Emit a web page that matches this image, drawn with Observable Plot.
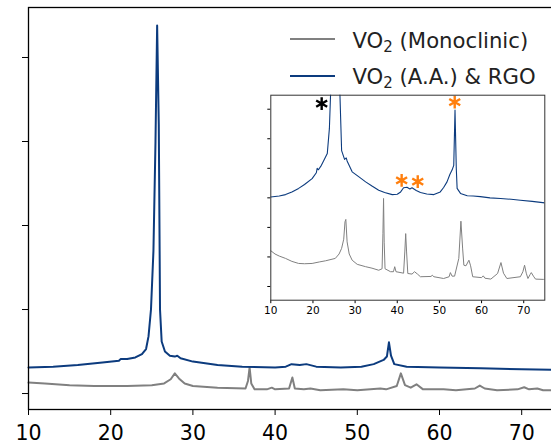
<!DOCTYPE html>
<html>
<head>
<meta charset="utf-8">
<script src="https://cdn.jsdelivr.net/npm/d3@7"></script>
<script src="https://cdn.jsdelivr.net/npm/@observablehq/plot@0.6"></script>
<style>
  html, body { margin: 0; padding: 0; background: white; overflow: hidden; }
  #wrap { position: relative; width: 551px; height: 445px; overflow: hidden; }
  #main { position: absolute; left: 0; top: 0; width: 563px; }
  #inset { position: absolute; left: 250px; top: 85px; width: 300px; }
  #legend { position: absolute; left: 0; top: 0; }
  svg { max-width: none !important; }
</style>
</head>
<body>
<div id="wrap">
  <div id="main"></div>
  <div id="inset"></div>
  <svg id="legend" width="551" height="95"></svg>
</div>
<script>
// ---- data ----
const seriesNames = ["VO2 (Monoclinic)", "VO2 (A.A.) & RGO"];
const xTicks = [10, 20, 30, 40, 50, 60, 70];
const mainYTicks = [0, 1, 2, 3, 4];
const insetYTicks = [0, 1, 2, 3, 4, 5, 6];

// main panel, gray (monoclinic)
const grayX = [10, 12, 15, 18, 22, 25, 26.5, 27.3, 27.8, 28.3, 29, 30, 33, 36.4, 36.7, 36.9, 37.1, 37.5, 39, 39.6, 40, 41.7, 42.1, 42.4, 43.5, 44.3, 45.5, 48.3, 50, 52.8, 53.5, 54.8, 55.3, 55.8, 56.5, 57.2, 58, 60.5, 62, 64.3, 64.9, 65.5, 67, 69.5, 70.3, 70.9, 71.9, 72.6, 75];
const grayY = [0.13, 0.12, 0.10, 0.09, 0.09, 0.10, 0.12, 0.17, 0.24, 0.18, 0.12, 0.09, 0.07, 0.06, 0.15, 0.31, 0.12, 0.05, 0.05, 0.07, 0.05, 0.06, 0.19, 0.06, 0.05, 0.06, 0.04, 0.05, 0.04, 0.06, 0.05, 0.09, 0.24, 0.10, 0.07, 0.11, 0.05, 0.05, 0.04, 0.06, 0.095, 0.06, 0.04, 0.05, 0.075, 0.05, 0.06, 0.04, 0.035];

// main panel, blue (A.A. & RGO)
const blueX = [10, 13, 16, 19, 21, 21.2, 22, 23, 23.8, 24.3, 24.6, 24.9, 25.2, 25.45, 25.65, 25.85, 26.0, 26.2, 26.6, 27.2, 27.8, 28.1, 28.5, 30, 33, 36, 40, 41.3, 42, 43, 43.8, 45, 48, 50.5, 52, 53.2, 53.6, 53.85, 54.1, 54.5, 56, 60, 65, 70, 75];
const blueY = [0.31, 0.32, 0.34, 0.37, 0.39, 0.41, 0.41, 0.43, 0.47, 0.53, 0.68, 1.0, 1.7, 3.0, 4.38, 3.2, 1.0, 0.62, 0.5, 0.45, 0.44, 0.45, 0.42, 0.38, 0.34, 0.32, 0.31, 0.32, 0.35, 0.34, 0.35, 0.32, 0.31, 0.32, 0.35, 0.40, 0.44, 0.61, 0.45, 0.35, 0.32, 0.31, 0.30, 0.29, 0.28];

// inset, blue
const insetBlueX = [10, 12, 13.5, 15, 16.6, 18, 19.8, 20.8, 21, 21.3, 22, 22.6, 23.4, 23.9, 24.3, 24.6, 25.65, 26.0, 26.4, 26.8, 27.5, 27.9, 28.1, 29.3, 31, 32.5, 34, 35.6, 37, 38.8, 40, 40.8, 41.5, 42.3, 43, 43.5, 44.5, 45.5, 47, 48.7, 50.2, 51, 51.8, 52.5, 53, 53.4, 53.7, 54.0, 54.2, 55, 56.6, 58, 59.7, 62, 64.5, 67, 69.2, 72, 75];
const insetBlueY = [3.03, 3.06, 3.11, 3.2, 3.32, 3.45, 3.65, 3.85, 4.0, 3.95, 4.1, 4.27, 4.5, 5.35, 7.0, 9, 30, 9, 6.5, 4.6, 4.3, 4.35, 4.25, 3.88, 3.7, 3.54, 3.4, 3.26, 3.18, 3.11, 3.12, 3.2, 3.34, 3.36, 3.3, 3.34, 3.25, 3.18, 3.13, 3.11, 3.2, 3.35, 3.54, 3.8, 3.94, 4.1, 5.97, 4.0, 3.32, 3.15, 3.07, 3.06, 3.04, 3.0, 2.98, 2.95, 2.92, 2.88, 2.83];

// inset, gray
const insetGrayX = [10, 11, 12, 13.5, 15, 16.6, 18, 19.8, 21.5, 23, 25.3, 26.2, 26.8, 27.3, 27.6, 27.8, 28.1, 28.6, 29.3, 30.5, 32.5, 34, 35.6, 36.4, 36.6, 36.75, 36.9, 37.1, 38.4, 39.1, 39.4, 39.7, 41.5, 41.8, 42.0, 42.2, 42.5, 43.5, 44.1, 44.8, 45.5, 48, 48.3, 48.7, 51, 52.3, 52.6, 53, 53.6, 54.6, 55.1, 55.5, 55.8, 56.3, 57.0, 57.4, 57.9, 60, 60.4, 60.8, 62.2, 63.8, 64.6, 65.2, 66, 69.2, 69.8, 70.2, 70.6, 71, 71.5, 71.8, 72.3, 72.8, 74.7, 75];
const insetGrayY = [1.21, 1.1, 1.03, 0.95, 0.85, 0.78, 0.77, 0.78, 0.83, 0.87, 0.95, 1.1, 1.29, 1.6, 2.19, 2.27, 1.51, 1.1, 0.89, 0.75, 0.67, 0.62, 0.55, 0.6, 1.8, 2.98, 1.5, 0.6, 0.5, 0.5, 0.67, 0.5, 0.45, 1.2, 1.79, 1.2, 0.44, 0.42, 0.5, 0.42, 0.33, 0.34, 0.38, 0.33, 0.27, 0.33, 0.47, 0.35, 0.35, 0.95, 2.21, 1.3, 0.72, 0.7, 0.89, 0.7, 0.33, 0.3, 0.36, 0.28, 0.25, 0.44, 0.81, 0.45, 0.27, 0.33, 0.5, 0.72, 0.45, 0.27, 0.4, 0.47, 0.35, 0.25, 0.24, 0.24];

// inset asterisk markers
const starX = [22.07, 41.04, 44.86, 53.63];
const starY = [6.19, 3.59, 3.55, 6.24];
const starColor = ["black", "#ff7f0e", "#ff7f0e", "#ff7f0e"];

const GRAY = "#808080";
const BLUE = "#0c3b7e";

const toRows = (xs, ys) => xs.map((x, i) => ({x, y: ys[i]}));

// ---- main chart ----
const main = Plot.plot({
  width: 563,
  height: 445,
  marginLeft: 28,
  marginRight: 0.7,
  marginTop: 7,
  marginBottom: 36,
  style: {background: "transparent", fontFamily: "DejaVu Sans", fontSize: "20.5px", color: "black", overflow: "visible", maxWidth: "none"},
  x: {domain: [10, 75], ticks: xTicks, tickSize: 6, tickPadding: 10, label: null},
  y: {domain: [-0.19, 4.595], ticks: mainYTicks, tickFormat: () => "", tickSize: 6, label: null},
  marks: [
    Plot.line(toRows(grayX, grayY), {x: "x", y: "y", stroke: GRAY, strokeWidth: 2}),
    Plot.line(toRows(blueX, blueY), {x: "x", y: "y", stroke: BLUE, strokeWidth: 2}),
    Plot.frame({stroke: "black", strokeWidth: 1.3})
  ]
});
document.getElementById("main").append(main);

// ---- inset chart ----
const inset = Plot.plot({
  width: 300,
  height: 245,
  marginLeft: 20.3,
  marginRight: 5.7,
  marginTop: 9.7,
  marginBottom: 30.3,
  style: {background: "transparent", fontFamily: "DejaVu Sans", fontSize: "10.5px", color: "black", maxWidth: "none"},
  x: {domain: [10, 75], ticks: xTicks, tickSize: 3.5, tickPadding: 3, label: null},
  y: {domain: [-0.464, 6.474], ticks: insetYTicks, tickFormat: () => "", tickSize: 3, label: null},
  marks: [
    Plot.frame({fill: "white", stroke: null}),
    Plot.line(toRows(insetGrayX, insetGrayY), {x: "x", y: "y", stroke: GRAY, strokeWidth: 1, clip: true}),
    Plot.line(toRows(insetBlueX, insetBlueY), {x: "x", y: "y", stroke: BLUE, strokeWidth: 1.1, clip: true}),
    Plot.dot(starX.map((x, i) => ({x, y: starY[i], c: starColor[i]})), {x: "x", y: "y", symbol: "asterisk", r: 6, stroke: "c", strokeWidth: 2.4}),
    Plot.frame({stroke: "#333", strokeWidth: 1})
  ]
});
document.getElementById("inset").append(inset);

// ---- legend ----
const lg = d3.select("#legend");
const legendRows = [
  {name: seriesNames[0], color: GRAY, y: 39, base: 47.5},
  {name: seriesNames[1], color: BLUE, y: 76, base: 84}
];
legendRows.forEach(r => {
  lg.append("line").attr("x1", 290).attr("x2", 335).attr("y1", r.y).attr("y2", r.y)
    .attr("stroke", r.color).attr("stroke-width", 2);
  const t = lg.append("text").attr("x", 352.5).attr("y", r.base)
    .attr("font-family", "DejaVu Sans").attr("font-size", "21.2px").attr("fill", "#222");
  t.append("tspan").text("VO");
  t.append("tspan").attr("font-size", "15px").attr("dy", 4).text("2");
  t.append("tspan").attr("dy", -4).text(r.name.slice(3));
});
</script>
</body>
</html>
